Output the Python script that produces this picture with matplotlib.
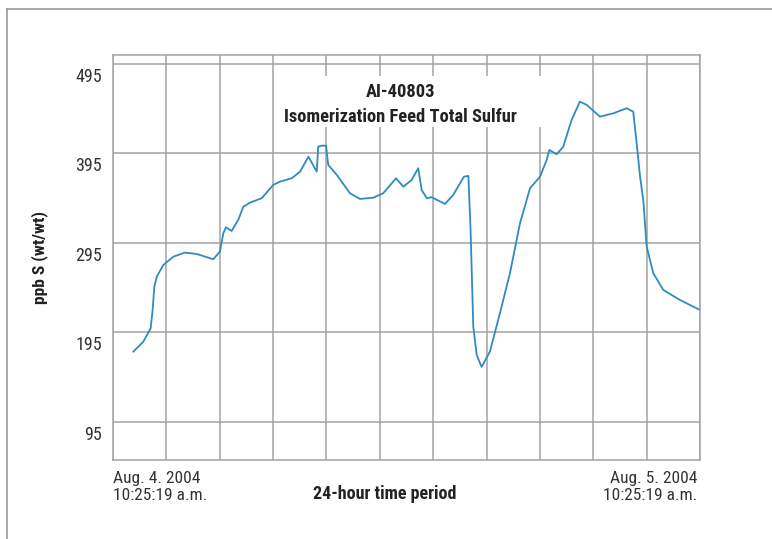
import matplotlib
matplotlib.use("Agg")
import matplotlib.pyplot as plt
import matplotlib.transforms as mtransforms
from matplotlib.lines import Line2D
from matplotlib.patches import Rectangle

plt.rcParams['font.family'] = ['Roboto Condensed', 'DejaVu Sans']

# hours since Aug. 4 2004 10:25:19 a.m.
hours = [0.83, 1.24, 1.54, 1.62, 1.69, 1.79, 2.06, 2.47, 2.94, 3.42, 4.10, 4.37,
         4.51, 4.62, 4.85, 5.12, 5.33, 5.60, 6.08, 6.55, 6.83, 7.31, 7.65, 7.99,
         8.33, 8.39, 8.53, 8.71, 8.80, 9.15, 9.69, 10.10, 10.64, 11.05, 11.57,
         11.87, 12.21, 12.48, 12.62, 12.83, 13.03, 13.57, 13.91, 14.35, 14.53,
         14.62, 14.73, 14.87, 15.07, 15.41, 15.82, 16.23, 16.64, 17.05, 17.46,
         17.73, 17.84, 18.14, 18.41, 18.75, 19.09, 19.37, 19.91, 20.46, 21.00,
         21.27, 21.41, 21.55, 21.68, 21.82, 22.09, 22.50, 23.18, 24.0]
sulfur = [173.6, 184.7, 199.7, 220.1, 246.2, 257.4, 270.4, 279.7, 284.2, 282.7,
          276.8, 285.3, 305.8, 312.5, 308.4, 320.7, 335.6, 340.0, 345.0, 359.8,
          363.5, 367.3, 374.7, 391.4, 374.7, 402.6, 403.7, 403.7, 382.2, 371.0,
          350.5, 344.2, 345.6, 350.5, 367.3, 357.9, 365.4, 378.5, 354.2, 345.0,
          346.1, 338.6, 348.6, 369.1, 369.9, 309.5, 201.5, 169.9, 156.5, 173.6,
          216.5, 261.2, 317.0, 356.1, 369.1, 387.7, 398.9, 394.1, 402.6, 432.4,
          452.9, 449.2, 436.1, 439.9, 445.5, 441.7, 406.4, 369.1, 343.0, 290.9,
          261.2, 242.5, 231.3, 220.1]

y_ticks = [95, 195, 295, 395, 495]
title = "AI-40803\nIsomerization Feed Total Sulfur"
start_label = "Aug. 4. 2004\n10:25:19 a.m."
end_label = "Aug. 5. 2004\n10:25:19 a.m."

grid_c = '#a3a3a3'
line_c = '#2f8bc0'

fig = plt.figure(figsize=(7.72, 5.39), dpi=100)
fig.patch.set_facecolor('white')

# outer frame (top and left edges only)
fig.add_artist(Line2D([7 / 772, 1.0], [1 - 9 / 539] * 2, color='#9a9a9a', lw=1.2))
fig.add_artist(Line2D([7 / 772] * 2, [0, 1 - 9 / 539], color='#9a9a9a', lw=1.2))

ax = fig.add_axes([113 / 772, 79 / 539, 587 / 772, 405 / 539])
ax.set_xlim(0, 24)
ax.set_ylim(52.5, 505)
ax.set_xticks([24 / 11 * k for k in range(12)])
ax.set_yticks(y_ticks)
ax.set_xticklabels([])
ax.set_yticklabels([str(v) for v in y_ticks], fontsize=13, color='#333333')
ax.tick_params(length=0, pad=8)
offset = mtransforms.ScaledTranslation(0, -11 / 100, fig.dpi_scale_trans)
for lab in ax.get_yticklabels():
    lab.set_transform(lab.get_transform() + offset)
ax.grid(True, color=grid_c, lw=1.1)
ax.set_axisbelow(True)
for s in ax.spines.values():
    s.set_color(grid_c)
    s.set_linewidth(1.1)

# white box behind the title
ax.add_patch(Rectangle((8.25, 424), 10.1, 57, transform=ax.transData,
                       facecolor='white', edgecolor='none', zorder=1.5))
ax.text(0.49, 0.877, title, transform=ax.transAxes, ha='center', va='center',
        fontsize=13.3, fontweight='bold', color='#222222', linespacing=1.5, zorder=3)

ax.plot(hours, sulfur, color=line_c, lw=1.3, zorder=2.5)

ax.set_ylabel("ppb S (wt/wt)", fontsize=12.5, fontweight='bold', color='#222222')
ax.yaxis.set_label_coords(-0.11, 0.5)

fig.text(113 / 772, 1 - 487 / 539, start_label, ha='left', va='center',
         fontsize=12.5, color='#333333', linespacing=1.25)
fig.text(697 / 772, 1 - 487 / 539, end_label, ha='right', va='center',
         fontsize=12.5, color='#333333', linespacing=1.25)
fig.text(385 / 772, 1 - 494 / 539, "24-hour time period", ha='center', va='center',
         fontsize=13, fontweight='bold', color='#222222')

fig.savefig('out.png', dpi=100)
